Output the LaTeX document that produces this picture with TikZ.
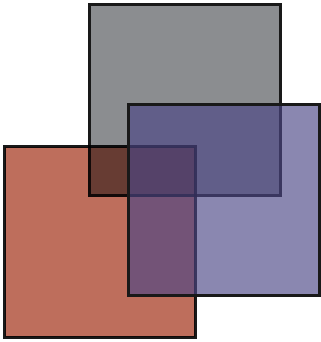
\documentclass[tikz,border=0pt]{standalone}
\usepackage{tikz}
\usetikzlibrary{positioning}
\definecolor{greysq}{RGB}{139,141,144}
\definecolor{redsq}{RGB}{190,110,92}
\definecolor{bluesq}{RGB}{76,70,134}
\tikzset{
  square/.style={rectangle, minimum size=1.9cm, inner sep=0pt, draw=black!90, line width=0.85pt},
  greybox/.style={square, fill=greysq},
  redbox/.style={square, fill=redsq, blend mode=multiply},
  bluebox/.style={square, fill=bluesq, fill opacity=0.65}
}
\begin{document}
\begin{tikzpicture}[x=0.01cm, y=-0.01cm]
    \useasboundingbox (0,0) rectangle (321,342);

    \node (grey) [greybox] at (185,100) {};
    \node (red) [redbox] at (100,242) {};
    \node (blue) [bluebox] at (224,200) {};

\end{tikzpicture}
\end{document}
